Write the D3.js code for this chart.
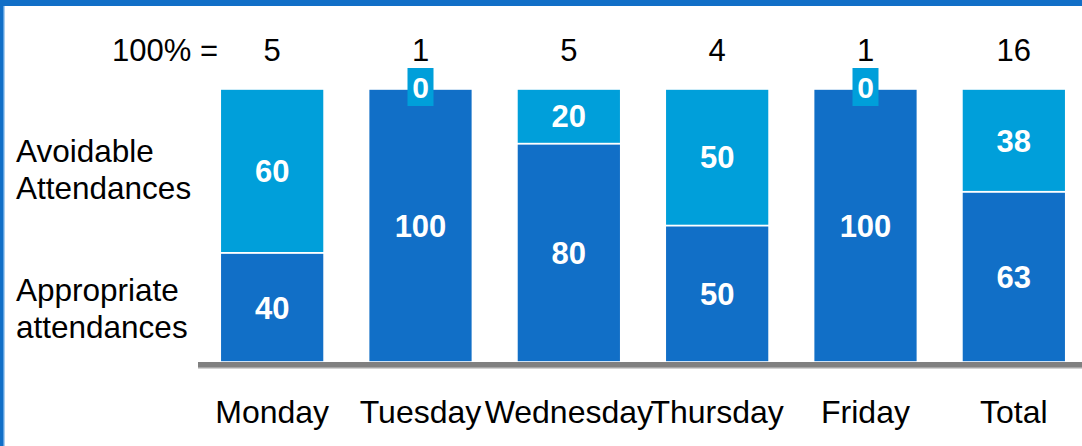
<!DOCTYPE html>
<html>
<head>
<meta charset="utf-8">
<script src="https://cdn.jsdelivr.net/npm/d3@7"></script>
<style>
  html, body { margin: 0; padding: 0; background: #fff; }
  svg { display: block; font-family: "Liberation Sans", Arial, sans-serif; }
</style>
</head>
<body>
<svg id="chart" width="1082" height="446"></svg>
<script>
// Share of attendances per weekday (percent of that day's total)
const categories = ["Monday", "Tuesday", "Wednesday", "Thursday", "Friday", "Total"];
const totals = [5, 1, 5, 4, 1, 16];
const avoidable = [60, 0, 20, 50, 0, 38];
const appropriate = [40, 100, 80, 50, 100, 63];
const seriesKeys = ["appropriate", "avoidable"];
const seriesNames = { avoidable: ["Avoidable", "Attendances"], appropriate: ["Appropriate", "attendances"] };

const colors = { appropriate: "#116fc7", avoidable: "#009fda" };
const W = 1082, H = 446;

const rows = categories.map((c, i) => ({
  category: c, total: totals[i], avoidable: avoidable[i], appropriate: appropriate[i]
}));

const svg = d3.select("#chart");

// frame: blue band along the top and left edge
svg.append("rect").attr("x", 0).attr("y", 0).attr("width", W).attr("height", 6).attr("fill", "#116fc7");
svg.append("rect").attr("x", 0).attr("y", 0).attr("width", 3).attr("height", H).attr("fill", "#116fc7");
svg.append("rect").attr("x", 3).attr("y", 6).attr("width", 1.5).attr("height", H).attr("fill", "#5aa0e0");

const x = d3.scaleBand().domain(categories).range([198, 1088]).paddingInner(0.3).paddingOuter(0.15);
const y = d3.scaleLinear().domain([0, 1]).range([362, 89]);

// 100%-stacked layout
const stack = d3.stack().keys(seriesKeys).offset(d3.stackOffsetExpand);
const layers = stack(rows);

const g = svg.append("g");
layers.forEach(layer => {
  const key = layer.key;
  g.selectAll(null).data(layer.filter(d => d.data[key] > 0)).enter()
    .append("rect")
    .attr("x", d => x(d.data.category))
    .attr("width", x.bandwidth())
    .attr("y", d => y(d[1]))
    .attr("height", d => y(d[0]) - y(d[1]))
    .attr("fill", colors[key])
    .attr("stroke", "#fff")
    .attr("stroke-width", 1.6);
});

// value labels
layers.forEach(layer => {
  const key = layer.key;
  layer.forEach(d => {
    const v = d.data[key];
    const cx = x(d.data.category) + x.bandwidth() / 2;
    if (v > 0) {
      g.append("text")
        .attr("x", cx)
        .attr("y", (y(d[0]) + y(d[1])) / 2)
        .attr("dy", "0.36em")
        .attr("text-anchor", "middle")
        .attr("fill", "#fff")
        .attr("font-weight", "bold")
        .attr("font-size", 31)
        .text(v);
    } else {
      // empty segment: tag sits on top of the bar
      const cy = y(d[1]);
      g.append("rect")
        .attr("x", cx - 13).attr("y", cy - 21)
        .attr("width", 26).attr("height", 38)
        .attr("fill", colors[key]);
      g.append("text")
        .attr("x", cx)
        .attr("y", cy - 2)
        .attr("dy", "0.36em")
        .attr("text-anchor", "middle")
        .attr("fill", "#fff")
        .attr("font-weight", "bold")
        .attr("font-size", 30)
        .text(v);
    }
  });
});

// baseline
svg.append("rect").attr("x", 198).attr("y", 362).attr("width", W - 198).attr("height", 5).attr("fill", "#808080");
svg.append("rect").attr("x", 198).attr("y", 367).attr("width", W - 198).attr("height", 1.5).attr("fill", "#a6a6a6");

// category axis
const xAxis = d3.axisBottom(x).tickSize(0).tickPadding(0);
const axG = svg.append("g").attr("transform", "translate(0,400)").call(xAxis);
axG.select(".domain").remove();
axG.selectAll("text")
  .attr("font-size", 32)
  .attr("font-family", "\"Liberation Sans\", Arial, sans-serif")
  .attr("fill", "#000");

// totals row
svg.append("text").attr("x", 218).attr("y", 61).attr("text-anchor", "end")
  .attr("font-size", 31).attr("fill", "#000").text("100% =");
svg.selectAll(".tot").data(rows).enter().append("text")
  .attr("class", "tot")
  .attr("x", d => x(d.category) + x.bandwidth() / 2)
  .attr("y", 61)
  .attr("text-anchor", "middle")
  .attr("font-size", 31).attr("fill", "#000")
  .text(d => d.total);

// series labels on the left
const seriesLabelY = { avoidable: 162, appropriate: 301 };
seriesKeys.forEach(k => {
  const t = svg.append("text").attr("x", 16).attr("y", seriesLabelY[k]).attr("font-size", 31.5).attr("fill", "#000");
  seriesNames[k].forEach((line, i) => {
    t.append("tspan").attr("x", 16).attr("dy", i === 0 ? 0 : 36.5).text(line);
  });
});
</script>
</body>
</html>
